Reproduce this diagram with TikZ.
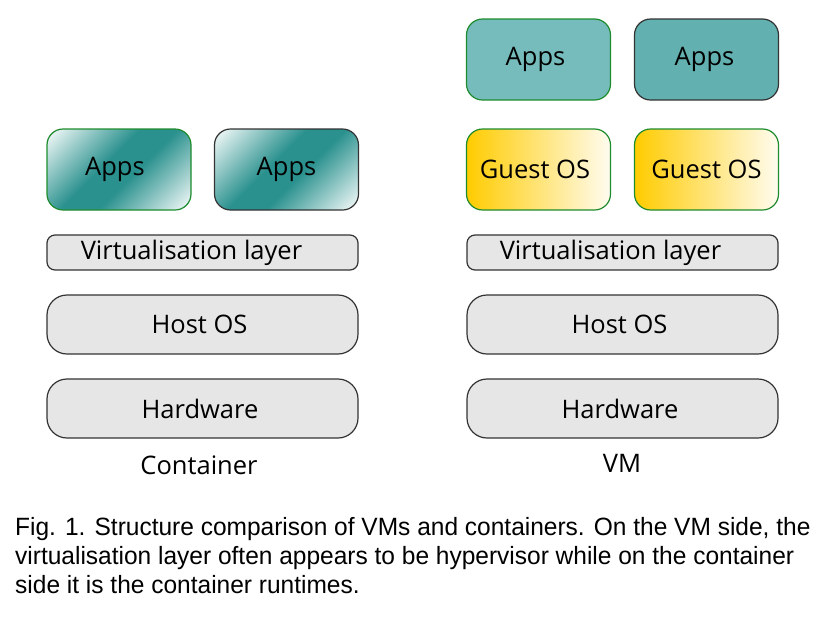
\documentclass[tikz,border=0pt]{standalone}
\usepackage{fontspec}
\setmainfont{Open Sans}
\newfontfamily\capfont[FakeStretch=0.98]{Liberation Sans}
\definecolor{boxgreen}{HTML}{1E8C2E}
\definecolor{boxedge}{HTML}{333333}
\definecolor{tealmain}{HTML}{2A918E}
\definecolor{teallight}{HTML}{E2F1F0}
\definecolor{appsone}{HTML}{76BCBC}
\definecolor{appstwo}{HTML}{62B0B0}
\definecolor{guestyellow}{HTML}{FFCC00}
\definecolor{guestwhite}{HTML}{FFFCF0}
\definecolor{layergray}{HTML}{E6E6E6}
\pgfdeclarehorizontalshading{appsdiag}{100bp}{color(0bp)=(teallight); color(18bp)=(teallight);
	color(44bp)=(tealmain); color(56bp)=(tealmain); color(82bp)=(teallight); color(100bp)=(teallight)}

\begin{document}
\begin{tikzpicture}[x=1pt,y=-1pt,
	every node/.style={font=\fontsize{25.5}{30}\selectfont},
	base/.style={draw=boxedge, line width=1.2pt, rounded corners=16pt,
		minimum width=144pt, minimum height=81pt, inner sep=0pt},
	layer/.style={draw=boxedge, line width=1.2pt, fill=layergray, inner sep=0pt,
		minimum width=311pt},
	appsgrad/.style={base, shading=appsdiag, shading angle=-45},
	guest/.style={base, draw=boxgreen, left color=guestyellow, right color=guestwhite}
]
\useasboundingbox (0,0) rectangle (826,624);

% container side
\node[appsgrad, draw=boxgreen] (capps1) at (119,169.5) {Apps\hspace*{8pt}};
\node[appsgrad] (capps2) at (286.5,169.5) {Apps};
\node[layer, minimum height=35pt, rounded corners=8pt] (cvirt) at (202.5,252.5) {Virtualisation layer\hspace*{22pt}};
\node[layer, minimum height=59pt, rounded corners=20pt] (chost) at (202.5,324.5) {Host OS\hspace*{6pt}};
\node[layer, minimum height=59pt, rounded corners=20pt] (chw) at (202.5,408.5) {Hardware\hspace*{5pt}};
\node (clabel) at (199,465) {Container};

% vm side
\node[base, draw=boxgreen, fill=appsone] (vapps1) at (538.5,59.5) {Apps\hspace*{6pt}};
\node[base, fill=appstwo] (vapps2) at (706.5,59.5) {Apps\hspace*{4pt}};
\node[guest] (vguest1) at (538.5,169.5) {Guest OS\hspace*{7pt}};
\node[guest] (vguest2) at (706.5,169.5) {Guest OS};
\node[layer, minimum height=35pt, rounded corners=8pt] (vvirt) at (622.5,252.5) {Virtualisation layer\hspace*{24pt}};
\node[layer, minimum height=59pt, rounded corners=20pt] (vhost) at (622.5,324.5) {Host OS\hspace*{6pt}};
\node[layer, minimum height=59pt, rounded corners=20pt] (vhw) at (622.5,408.5) {Hardware\hspace*{5pt}};
\node (vlabel) at (622,463) {VM};

% caption
\node[anchor=north west, align=left, inner sep=0pt,
	font=\capfont\fontsize{25}{29}\selectfont] (caption) at (15,517)
	{Fig. 1. Structure comparison of VMs and containers. On the VM side, the\\
	 virtualisation layer often appears to be hypervisor while on the container\\
	 side it is the container runtimes.};

\end{tikzpicture}
\end{document}
